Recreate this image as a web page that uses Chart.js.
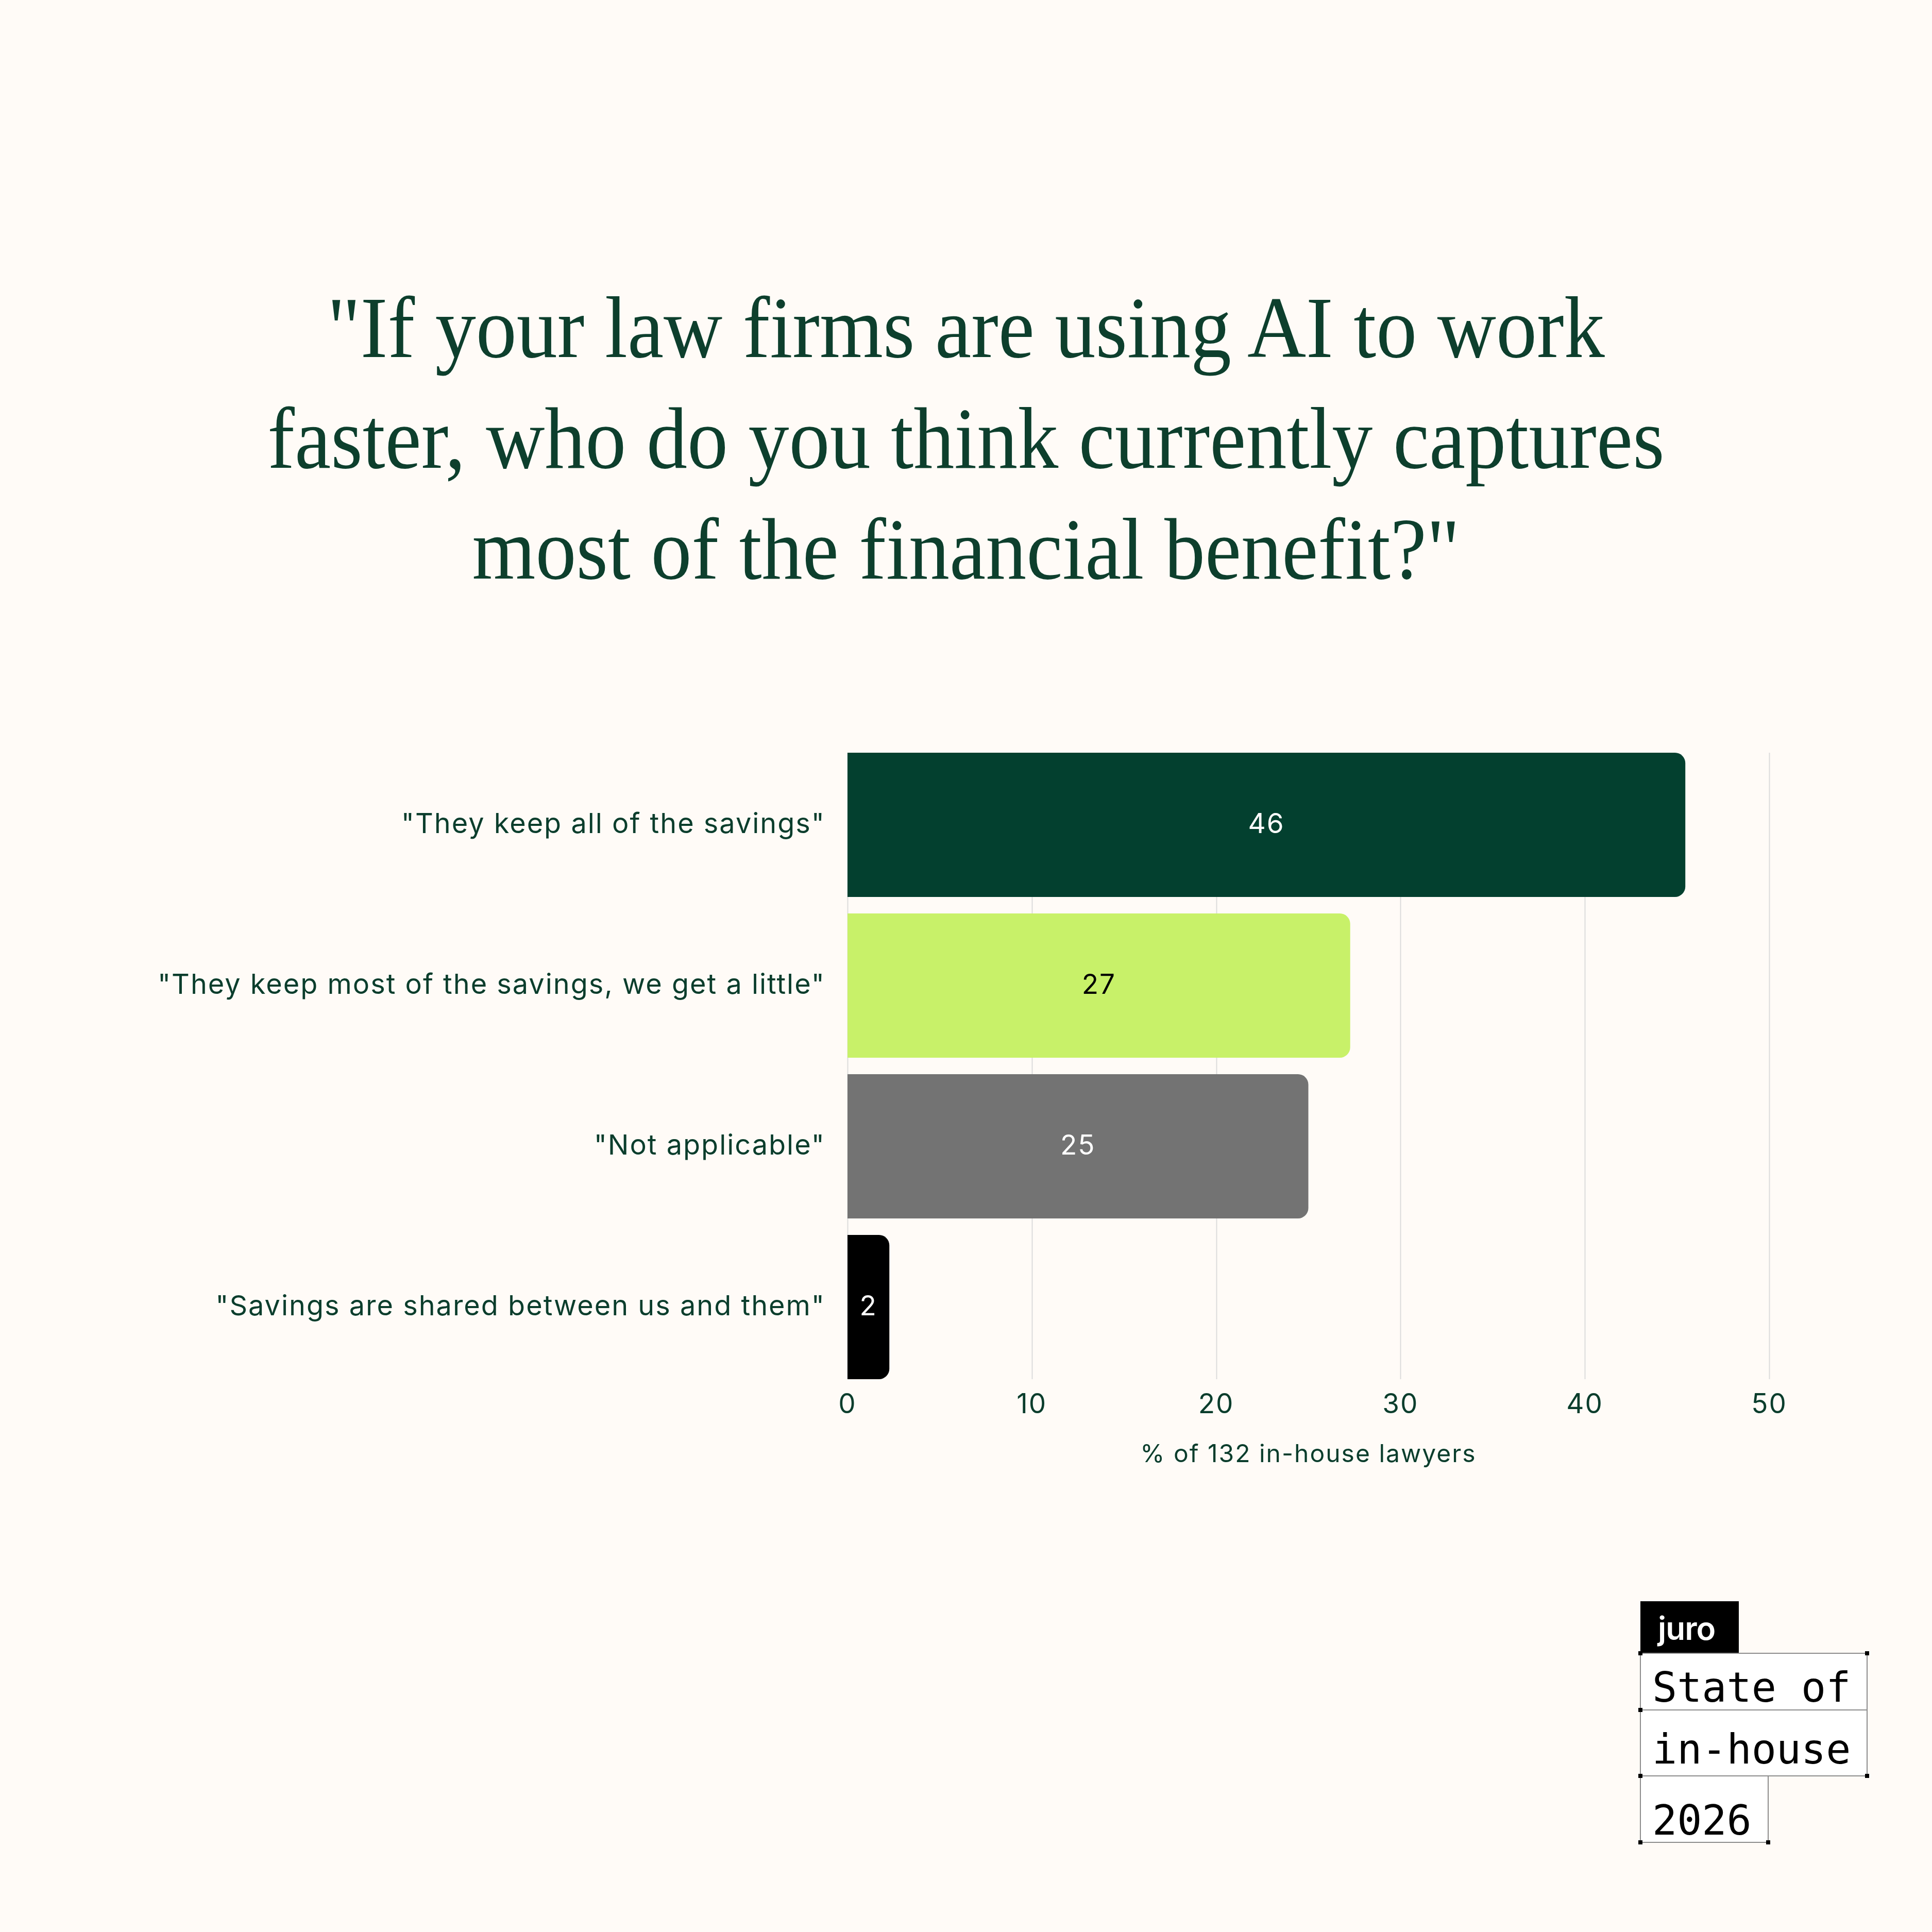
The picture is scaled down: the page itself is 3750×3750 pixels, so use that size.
<!DOCTYPE html>
<html>
<head>
<meta charset="utf-8">
<script src="https://cdn.jsdelivr.net/npm/chart.js@4.4.1/dist/chart.umd.min.js"></script>
<style>
  html, body { margin: 0; padding: 0; background: #fffbf7; }
  body { width: 3750px; height: 3750px; position: relative; overflow: hidden; }
  #chart { position: absolute; left: 0; top: 0; }
  #title {
    position: absolute; left: 0; top: 529px; width: 3750px; margin: 0;
    text-align: center; font-family: "Liberation Serif", serif; font-weight: normal;
    font-size: 170px; line-height: 215px; color: #0d3f2d;
    transform: scaleX(0.93); transform-origin: 1875px 0;
  }
  .juro { position: absolute; left: 3184px; top: 3108px; width: 191px; height: 100px; background: #000; }
  .juro span { position: absolute; left: 34px; top: 22px; color: #fff; font: 600 62px/1 Inter, sans-serif; letter-spacing: -1px; }
  .row { position: absolute; box-sizing: border-box; border: 2px solid #8c8c8c; background: #fff; }
  .row span { position: absolute; left: 22px; font: 400 80px/1 "DejaVu Sans Mono", monospace; color: #000; }
  .dot { position: absolute; width: 8px; height: 8px; background: #000; margin: -4px 0 0 -4px; }
</style>
</head>
<body>
<canvas id="chart" width="3750" height="3750"></canvas>
<h1 id="title">"If your law firms are using AI to work<br>faster, who do you think currently captures<br>most of the financial benefit?"</h1>

<div class="row" style="left:3183px; top:3446px; width:250px; height:131px;"><span style="top:46px;">2026</span></div>
<div class="row" style="left:3183px; top:3318px; width:442px; height:130px;"><span style="top:36px;">in-house</span></div>
<div class="row" style="left:3183px; top:3208px; width:442px; height:112px;"><span style="top:26px;">State of</span></div>
<div class="juro"><span>juro</span></div>
<div class="dot" style="left:3184px; top:3209px;"></div>
<div class="dot" style="left:3624px; top:3209px;"></div>
<div class="dot" style="left:3184px; top:3319px;"></div>
<div class="dot" style="left:3184px; top:3447px;"></div>
<div class="dot" style="left:3624px; top:3447px;"></div>
<div class="dot" style="left:3184px; top:3576px;"></div>
<div class="dot" style="left:3432px; top:3576px;"></div>

<script>
// survey answers, top to bottom
const categories = [
  '"They keep all of the savings"',
  '"They keep most of the savings, we get a little"',
  '"Not applicable"',
  '"Savings are shared between us and them"'
];
// share of 132 respondents (%)
const shares = [45.45, 27.27, 25.0, 2.27];
// numbers printed inside the bars
const shownLabels = ['46', '27', '25', '2'];
const xTicks = [0, 10, 20, 30, 40, 50];
const axisTitle = '% of 132 in-house lawyers';

const barColors = ['#03402f', '#c8f169', '#737373', '#000000'];
const labelColors = ['#ffffff', '#000000', '#ffffff', '#ffffff'];
const textColor = '#0a3d2c';

// wider letter spacing for every canvas text (the original font is wide)
const spacing = {
  id: 'spacing',
  beforeUpdate(chart) { chart.ctx.letterSpacing = '2px'; },
  beforeDraw(chart) { chart.ctx.letterSpacing = '2px'; }
};

// vertical grid lines only between the top of the first bar and the bottom of the last
const shortGrid = {
  id: 'shortGrid',
  beforeDatasetsDraw(chart) {
    const ctx = chart.ctx;
    const bars = chart.getDatasetMeta(0).data;
    const x = chart.scales.x;
    const top = bars[0].y - bars[0].height / 2;
    const last = bars[bars.length - 1];
    const bottom = last.y + last.height / 2;
    ctx.save();
    ctx.strokeStyle = '#dcdcdc';
    ctx.lineWidth = 2;
    xTicks.forEach(v => {
      const px = Math.round(x.getPixelForValue(v)) + 0.5;
      ctx.beginPath();
      ctx.moveTo(px, top);
      ctx.lineTo(px, bottom);
      ctx.stroke();
    });
    ctx.restore();
  }
};

// draws the value in the middle of each bar
const barValueLabels = {
  id: 'barValueLabels',
  afterDatasetsDraw(chart) {
    const ctx = chart.ctx;
    const meta = chart.getDatasetMeta(0);
    ctx.save();
    ctx.font = '400 53px Inter';
    ctx.textAlign = 'center';
    ctx.textBaseline = 'middle';
    meta.data.forEach((bar, i) => {
      const p = bar.getCenterPoint();
      ctx.fillStyle = labelColors[i];
      ctx.fillText(shownLabels[i], p.x, p.y);
    });
    ctx.restore();
  }
};

new Chart(document.getElementById('chart'), {
  type: 'bar',
  data: {
    labels: categories,
    datasets: [{
      data: shares,
      backgroundColor: barColors,
      borderRadius: 20,
      borderSkipped: 'start',
      categoryPercentage: 1,
      barPercentage: 0.897
    }]
  },
  options: {
    indexAxis: 'y',
    responsive: false,
    animation: false,
    devicePixelRatio: 1,
    layout: { padding: { top: 1445, right: 316, bottom: 898, left: 0 } },
    plugins: {
      legend: { display: false },
      tooltip: { enabled: false }
    },
    scales: {
      x: {
        min: 0,
        max: 50,
        afterBuildTicks: (scale) => { scale.ticks = xTicks.map(v => ({ value: v })); },
        afterFit: (scale) => { scale.height = 159; },
        grid: { display: false, drawTicks: false },
        border: { display: false },
        ticks: { color: textColor, font: { family: 'Inter', size: 53 }, padding: 2 },
        title: {
          display: true,
          text: axisTitle,
          color: textColor,
          font: { family: 'Inter', size: 48 },
          padding: 0
        }
      },
      y: {
        afterFit: (scale) => { scale.width = 1645; },
        grid: { display: false },
        border: { display: false },
        ticks: { color: textColor, font: { family: 'Inter', size: 54 }, padding: 35 }
      }
    }
  },
  plugins: [spacing, shortGrid, barValueLabels]
});
</script>
</body>
</html>
